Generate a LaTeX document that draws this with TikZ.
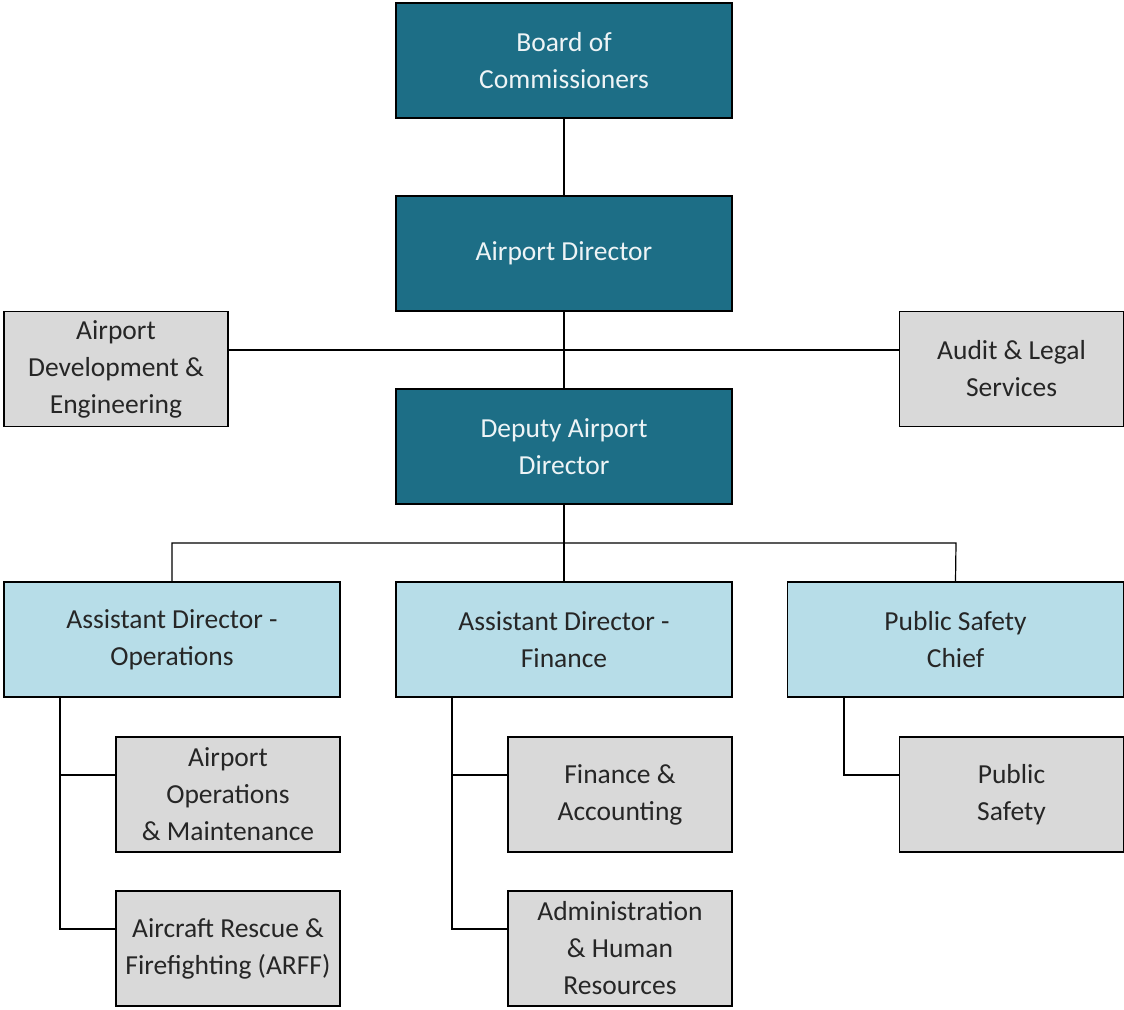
\documentclass[tikz,border=0pt]{standalone}
\usepackage{fontspec}
\setmainfont{Carlito}
\definecolor{darkteal}{HTML}{1D6E86}
\definecolor{lightblue}{HTML}{B7DDE8}
\definecolor{boxgray}{HTML}{D9D9D9}
\definecolor{paletext}{HTML}{EEF4F6}
\begin{document}
\begin{tikzpicture}[x=1pt,y=-1pt,
  base/.style={draw=black,line width=1.2pt,rectangle,inner sep=0pt,align=center,
    font=\fontsize{27.5}{37}\selectfont},
  topbox/.style={base,fill=darkteal,text=paletext,minimum width=336pt,minimum height=115pt},
  midbox/.style={base,fill=lightblue,text=black!85,minimum width=336pt,minimum height=115pt},
  subbox/.style={base,fill=boxgray,text=black!85,minimum width=224pt,minimum height=115pt},
  conn/.style={draw=black,line width=1.2pt}]
\useasboundingbox (0,0) rectangle (1124,1009);
\fill[white] (0,0) rectangle (1124,1009);

\coordinate (busL) at (172,543);
\coordinate (busR) at (956,543);
\coordinate (busM) at (564,543);
\coordinate (opsV) at (60,775);
\coordinate (opsV2) at (60,929);
\coordinate (finV) at (452,775);
\coordinate (finV2) at (452,929);
\coordinate (psV) at (844,775);

\node[topbox] (board) at (564,60.5) {Board of\\Commissioners};
\node[topbox] (dir) at (564,253.5) {Airport Director};
\node[topbox] (dep) at (564,446.5) {Deputy Airport\\Director};
\node[subbox] (ade) at (116,369) {Airport\\Development \&\\Engineering};
\node[subbox] (audit) at (1011.5,369) {Audit \& Legal\\Services};

\node[midbox] (ops) at (172,639.5) {Assistant Director -\\Operations};
\node[midbox] (fin) at (564,639.5) {Assistant Director -\\Finance};
\node[midbox] (psc) at (955.5,639.5) {Public Safety\\Chief};

\node[subbox] (aom) at (228,794.5) {Airport\\Operations\\\& Maintenance};
\node[subbox] (arff) at (228,948.5) {Aircraft Rescue \&\\Firefighting (ARFF)};
\node[subbox] (fa) at (620,794.5) {Finance \&\\Accounting};
\node[subbox] (ahr) at (620,948.5) {Administration\\\& Human\\Resources};
\node[subbox] (ps) at (1011.5,794.5) {Public\\Safety};

\draw[conn] (board.south) -- (dir.north);
\draw[conn] (dir.south) -- (dep.north);
\draw[conn] (ade.east |- 0,350) -- (audit.west |- 0,350);
\draw[conn] (dep.south) -- (busM);
\draw[conn] (ops.north) -- (busL) -- (busR) -- (psc.north);
\draw[conn] (busM) -- (fin.north);

\draw[conn] (ops.south -| opsV) -- (opsV2) -- (arff.west |- opsV2);
\draw[conn] (opsV) -- (aom.west |- opsV);
\draw[conn] (fin.south -| finV) -- (finV2) -- (ahr.west |- finV2);
\draw[conn] (finV) -- (fa.west |- finV);
\draw[conn] (psc.south -| psV) -- (psV) -- (ps.west |- psV);
\end{tikzpicture}
\end{document}
